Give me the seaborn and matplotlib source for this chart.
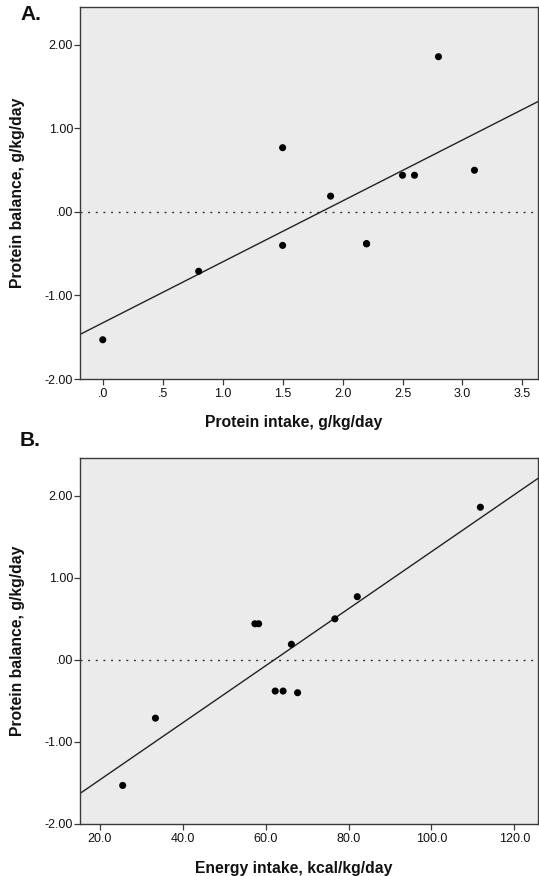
import matplotlib
matplotlib.use("Agg")
import matplotlib.pyplot as plt
import pandas as pd
import seaborn as sns

# Per-subject measurements
protein_intake = [0.0, 0.8, 1.5, 1.5, 1.9, 2.2, 2.2, 2.5, 2.6, 2.8, 3.1]          # g/kg/day
energy_intake = [25.5, 33.4, 82.1, 67.7, 66.2, 62.3, 64.2, 57.4, 58.3, 111.8, 76.7]  # kcal/kg/day
protein_balance = [-1.53, -0.71, 0.77, -0.40, 0.19, -0.38, -0.38, 0.44, 0.44, 1.86, 0.50]  # g/kg/day

# Axis ticks and their labels
protein_ticks = [0.0, 0.5, 1.0, 1.5, 2.0, 2.5, 3.0, 3.5]
protein_tick_labels = [".0", ".5", "1.0", "1.5", "2.0", "2.5", "3.0", "3.5"]
energy_ticks = [20, 40, 60, 80, 100, 120]
energy_tick_labels = ["20.0", "40.0", "60.0", "80.0", "100.0", "120.0"]
balance_ticks = [-2, -1, 0, 1, 2]
balance_tick_labels = ["-2.00", "-1.00", ".00", "1.00", "2.00"]

panel_letters = ["A.", "B."]
x_titles = ["Protein intake, g/kg/day", "Energy intake, kcal/kg/day"]
y_title = "Protein balance, g/kg/day"

df = pd.DataFrame({
    "protein": protein_intake,
    "energy": energy_intake,
    "balance": protein_balance,
})

sns.set_style("white")
plt.rcParams["font.family"] = ["Liberation Sans", "DejaVu Sans"]

W, H = 539, 876
fig = plt.figure(figsize=(W / 100, H / 100), dpi=100)


def px_axes(left, top, right, bottom):
    return fig.add_axes([left / W, 1 - bottom / H, (right - left) / W, (bottom - top) / H])


ax_a = px_axes(80, 7, 538, 379)
ax_b = px_axes(80, 458, 538, 824)

panels = [
    (ax_a, "protein", (-0.19, 3.63), (-2.0, 2.455), protein_ticks, protein_tick_labels),
    (ax_b, "energy", (15.2, 125.7), (-2.0, 2.46), energy_ticks, energy_tick_labels),
]

spine_color = "#3a3a3a"
for i, (ax, xcol, xlim, ylim, xt, xtl) in enumerate(panels):
    ax.set_facecolor("#ebebeb")
    ax.set_xlim(*xlim)
    ax.set_ylim(*ylim)
    ax.axhline(0, color="#333333", lw=1.0, ls=(0, (1.4, 4.1)), zorder=1)
    sns.regplot(
        data=df, x=xcol, y="balance", ax=ax, ci=None, truncate=False,
        scatter_kws=dict(s=26, color="black", edgecolor="none", alpha=1, zorder=3),
        line_kws=dict(color="#222222", lw=1.0, zorder=2),
    )
    ax.set_xlim(*xlim)
    ax.set_ylim(*ylim)
    ax.set_xticks(xt)
    ax.set_xticklabels(xtl)
    ax.set_yticks(balance_ticks)
    ax.set_yticklabels(balance_tick_labels)
    for sp in ax.spines.values():
        sp.set_color(spine_color)
        sp.set_linewidth(1.0)
    ax.tick_params(axis="both", which="major", direction="out", length=4.5, width=0.9,
                   color=spine_color, labelsize=9, labelcolor="#111111")
    ax.tick_params(axis="x", pad=2.0, bottom=True)
    ax.tick_params(axis="y", pad=0.5, left=True)
    ax.set_xlabel(x_titles[i], fontsize=11.3, fontweight="bold", va="center", color="#111111")
    ax.set_ylabel(y_title, fontsize=11.3, fontweight="bold", va="center", color="#111111")
    ax_h = (379 - 7) if i == 0 else (824 - 458)
    ax.xaxis.set_label_coords((294 - 80) / 458, -44 / ax_h)
    ax.yaxis.set_label_coords((17.5 - 80) / 458, 0.5)

fig.text(20.5 / W, 1 - 15 / H, panel_letters[0], fontsize=15, fontweight="bold",
         ha="left", va="center", color="#111111")
fig.text(20 / W, 1 - 440 / H, panel_letters[1], fontsize=15, fontweight="bold",
         ha="left", va="center", color="#111111")

fig.savefig("out.png", dpi=100)
